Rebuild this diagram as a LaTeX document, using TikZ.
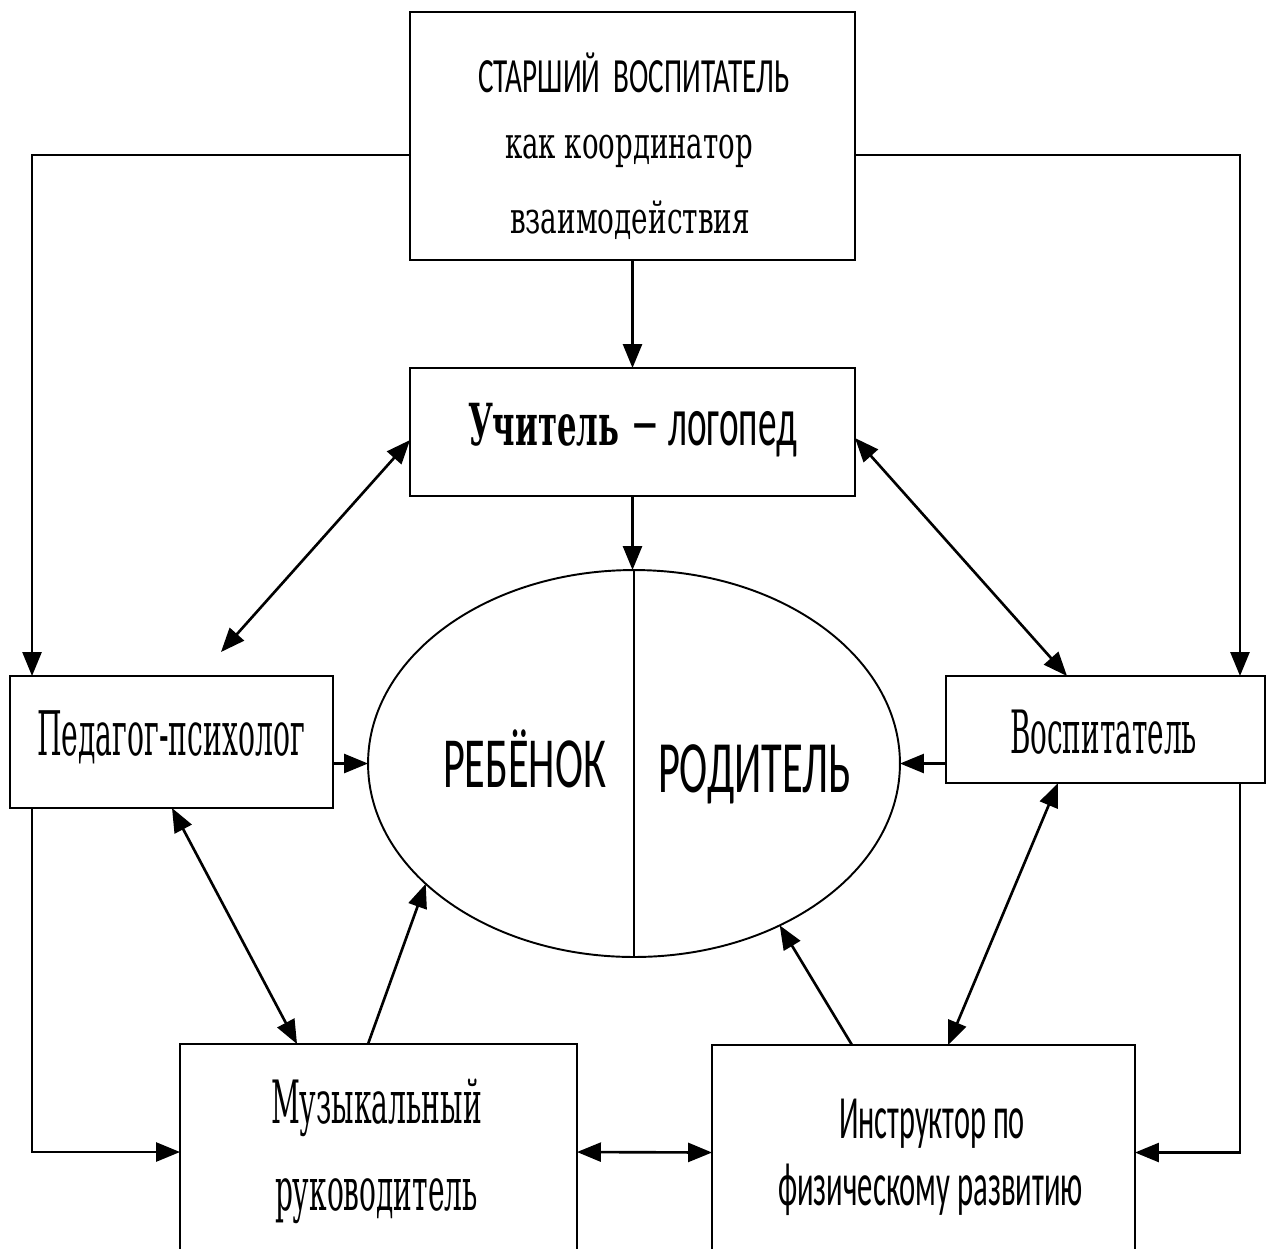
\documentclass[tikz,border=0pt]{standalone}
\usepackage{fontspec}
\usepackage{graphicx}
\newfontfamily\sansf{Carlito}
\newfontfamily\serf{DejaVu Serif}
\usetikzlibrary{arrows.meta,shapes.geometric}
\newcommand\lab[4]{\resizebox{#3}{\height}{#1\fontsize{#2}{#2}\selectfont #4}}
\begin{document}
\begin{tikzpicture}[x=0.02cm,y=-0.02cm,
  box/.style={draw,rectangle,line width=1.6pt,inner sep=0pt,outer sep=0pt},
  ellbox/.style={draw,ellipse,line width=1.1pt,inner sep=0pt,outer sep=0pt},
  conn/.style={line width=1.5pt},
  arr/.style={conn,-{Triangle[length=0.48cm,width=0.38cm]}},
  darr/.style={conn,{Triangle[length=0.48cm,width=0.38cm]}-{Triangle[length=0.48cm,width=0.38cm]}},
  lbl/.style={inner sep=0pt,outer sep=0pt,anchor=base}]
\useasboundingbox (0,0) rectangle (1266,1248);
\fill[white] (0,0) rectangle (1266,1248);
\clip (0,0) rectangle (1266,1248);

% boxes
\node[box,minimum width=8.9cm,minimum height=4.96cm] (top) at (632.5,136) {};
\node[box,minimum width=8.9cm,minimum height=2.56cm] (logo) at (632.5,432) {};
\node[box,minimum width=6.46cm,minimum height=2.64cm] (ped) at (171.5,742) {};
\node[box,minimum width=6.38cm,minimum height=2.14cm] (vos) at (1105.5,729.5) {};
\node[box,minimum width=7.94cm,minimum height=4.32cm] (mus) at (378.5,1152) {};
\node[box,minimum width=8.46cm,minimum height=4.3cm] (ins) at (923.5,1152.5) {};
\node[ellbox,minimum width=10.64cm,minimum height=7.74cm] (ell) at (634,763.5) {};

% texts
\node[lbl] (t1) at (634,92) {\lab{\sansf}{28}{6.24cm}{СТАРШИЙ\ \ ВОСПИТАТЕЛЬ}};
\node[lbl] (t2) at (629,158) {\lab{\serf}{25}{4.96cm}{как координатор}};
\node[lbl] (t3) at (630,233) {\lab{\serf}{25}{4.8cm}{взаимодействия}};
\node[lbl] (t4) at (632.5,445) {\lab{\serf\bfseries}{33}{6.58cm}{Учитель {\sansf\mdseries\fontsize{40}{40}\selectfont\scalebox{1.6}[1]{–} логопед}}};
\node[lbl] (t5) at (171,755) {\lab{\serf}{35}{5.36cm}{Педагог-психолог}};
\node[lbl] (t6) at (1103.5,753) {\lab{\serf}{34}{3.74cm}{Воспитатель}};
\node[lbl] (t7) at (376.5,1123) {\lab{\serf}{34}{4.22cm}{Музыкальный}};
\node[lbl] (t8) at (376.5,1210) {\lab{\serf}{34}{4.06cm}{руководитель}};
\node[lbl] (t9) at (932,1138) {\lab{\sansf}{35}{3.72cm}{Инструктор по}};
\node[lbl] (t10) at (930.5,1205) {\lab{\sansf}{35}{6.1cm}{физическому развитию}};
\node[lbl] (t11) at (524.5,787) {\lab{\sansf}{41}{3.26cm}{РЕБЁНОК}};
\node[lbl] (t12) at (754.5,792) {\lab{\sansf}{42}{3.86cm}{РОДИТЕЛЬ}};

% divider inside ellipse
\draw[line width=1.1pt] (ell.north) -- (ell.south);

% connectors
\coordinate (pedtip) at (221,652);
\draw[arr] ([yshift=-0.38cm]top.west) -| ([xshift=0.44cm]ped.north west);
\draw[arr] ([yshift=-0.38cm]top.east) -| ([xshift=-0.5cm]vos.north east);
\draw[arr] (top.south) -- (logo.north);
\draw[arr] (logo.south) -- (logo.south |- ell.north);
\draw[arr] (ped.east |- ell.west) -- (ell.west);
\draw[arr] (vos.west |- ell.east) -- (ell.east);
\draw[arr] ([xshift=0.44cm]ped.south west) |- (mus.west);
\draw[arr] ([xshift=-0.5cm]vos.south east) |- (ins.east);
\draw[darr] ([yshift=-0.16cm]logo.west) -- (pedtip);
\draw[darr] ([yshift=-0.12cm]logo.east) -- ([xshift=2.42cm]vos.north west);
\draw[darr] ([xshift=3.24cm]ped.south west) -- ([xshift=2.34cm]mus.north west);
\draw[darr] ([xshift=2.24cm]vos.south west) -- ([xshift=4.72cm]ins.north west);
\draw[darr] (mus.east) -- (ins.west);
\draw[arr] ([xshift=3.76cm]mus.north west) -- (ell.210.4);
\draw[arr] ([xshift=2.8cm]ins.north west) -- (ell.312.5);
\end{tikzpicture}
\end{document}
